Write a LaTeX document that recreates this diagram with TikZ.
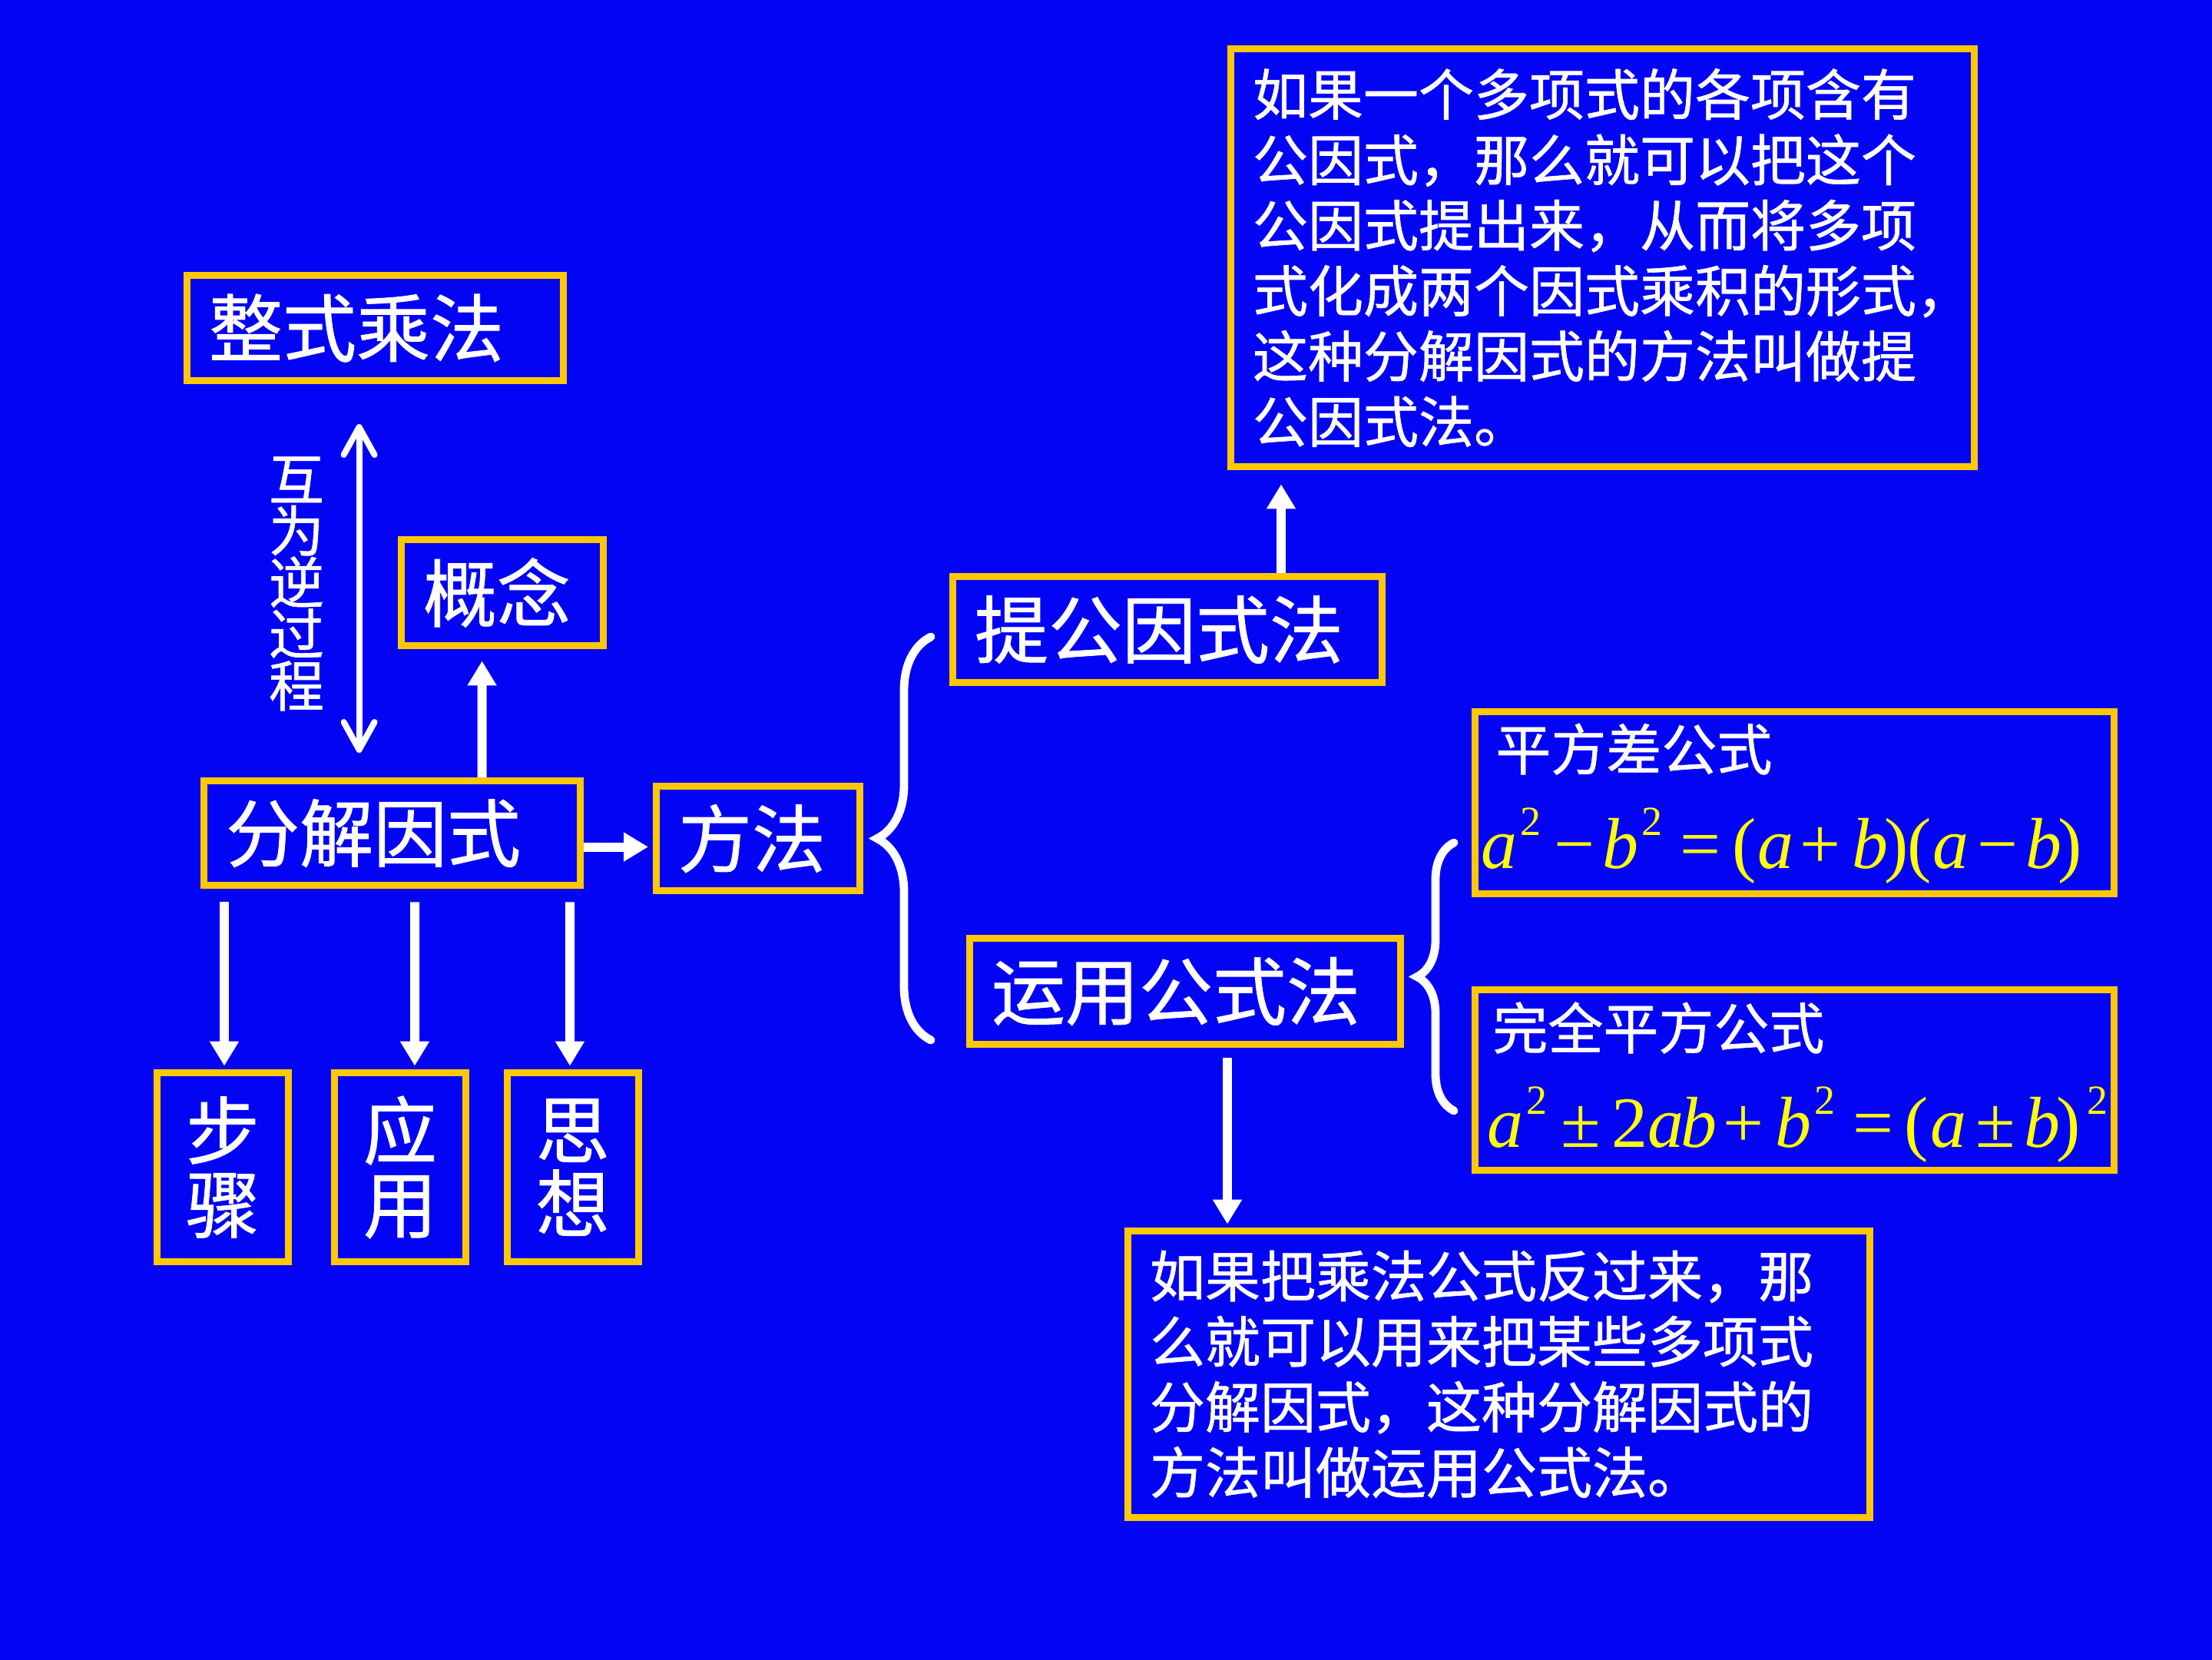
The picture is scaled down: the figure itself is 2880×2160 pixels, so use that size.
\documentclass[tikz,border=0pt]{standalone}
\usepackage{fontspec}
\setmainfont{Noto Sans CJK SC}[FakeBold=0.9]
\newfontfamily\fmlfont{Liberation Serif}
\usetikzlibrary{arrows.meta,decorations.pathreplacing,calc}
\definecolor{bgblue}{RGB}{4,4,245}
\definecolor{boxgold}{RGB}{255,200,0}
\definecolor{fmlyellow}{RGB}{255,255,0}
\newcommand\fsL{\fontsize{24bp}{24bp}\selectfont}
\newcommand\fsS{\fontsize{18bp}{21.3bp}\selectfont}
\newcommand\fsV{\fontsize{18bp}{16.8bp}\selectfont}
\newcommand\fsF{\fmlfont\fontsize{23.5bp}{23.5bp}\selectfont}
\newcommand\sqr{\raisebox{10.9bp}{\fontsize{13.5bp}{13.5bp}\selectfont 2}}
\newcommand\iv[1]{\textit{#1}}
\begin{document}
\begin{tikzpicture}[x=0.25bp,y=-0.25bp,
  box/.style={draw=boxgold,line width=2.2bp,text=white,inner ysep=0pt,inner xsep=7.15bp,align=left},
  tallbox/.style={draw=boxgold,line width=2.2bp,text=white,inner sep=0pt,align=center,
    minimum width=42.8bp,minimum height=61.55bp,font=\fsL},
  fat/.style={draw=white,line width=3bp,-{Triangle[width=9bp,length=8bp]}},
  thinarrow/.style={draw=white,line width=2bp,
    {Straight Barb[width=10bp,length=9bp,round]}-{Straight Barb[width=10bp,length=9bp,round]}},
  curly/.style={draw=white,line width=2.7bp,line cap=round,decorate,decoration={brace,amplitude=#1}},
  plain/.style={inner sep=0pt,anchor=base west}
]
\useasboundingbox (0,0) rectangle (2880,2160);
\fill[bgblue] (-40,-40) rectangle (2920,2200);

% left part
\node[box,font=\fsL,minimum width=122.5bp,minimum height=34.3bp,text width=108.2bp] (zscf) at (488.5,427) {整式乘法};
\node[box,font=\fsL,minimum width=65.8bp,minimum height=34.55bp,text width=51.5bp] (gn) at (654,771.5) {概念};
\node[box,font=\fsL,minimum width=122.5bp,minimum height=34.05bp,text width=108.2bp] (fj) at (510.5,1084.5) {分解因式};
\node[box,font=\fsL,minimum width=66.3bp,minimum height=34.05bp,text width=52bp] (ff) at (987,1091.5) {方法};
\node[tallbox] (bz) at (290,1519.5) {步\\骤};
\node[tallbox] (yyg) at (521,1519.5) {应\\用};
\node[tallbox] (sx) at (745.7,1519.5) {思\\想};
\node[text=white,font=\fsV,align=center,inner sep=0pt] (hw) at (386,760) {互\\为\\逆\\过\\程};

% right part
\node[box,font=\fsL,minimum width=139.8bp,minimum height=34.55bp,text width=125.5bp] (tg) at (1520,819.5) {提公因式法};
\node[box,font=\fsL,minimum width=140.3bp,minimum height=34.55bp,text width=126bp] (yy) at (1543,1290.5) {运用公式法};
\node[box,font=\fsS,minimum width=242.05bp,minimum height=136.05bp,text width=227.75bp] (tb) at (2086.5,335.5)
  {如果一个多项式的各项含有\\公因式，那么就可以把这个\\公因式提出来，从而将多项\\式化成两个因式乘积的形式，\\这种分解因式的方法叫做提\\公因式法。};
\node[box,font=\fsS,minimum width=241.55bp,minimum height=93.3bp,text width=227.25bp] (bb) at (1951.5,1789)
  {如果把乘法公式反过来，那\\么就可以用来把某些多项式\\分解因式，这种分解因式的\\方法叫做运用公式法。};
\node[box,minimum width=208.05bp,minimum height=59.3bp] (pfc) at (2336.5,1045) {};
\node[box,minimum width=208.05bp,minimum height=58.8bp] (wq) at (2336.5,1406) {};
\node[plain,text=white,font=\fsS] (pfct) at ($(pfc.north west)+(30.6,80.6)$) {平方差公式};
\node[plain,text=fmlyellow,font=\fsF] (pfcf) at ($(pfc.north west)+(11.6,208.6)$)
  {\iv{a}\kern1bp\sqr\kern4.25bp−\kern2.5bp\iv{b}\kern1bp\sqr\kern5.75bp=\kern3.75bp(\kern0.5bp\iv{a}\kern2bp+\kern3.75bp\iv{b}\kern-1.25bp)\kern-0.5bp(\kern0.5bp\iv{a}\kern2.75bp−\kern2.5bp\iv{b}\kern-1.25bp)};
\node[plain,text=white,font=\fsS] (wqt) at ($(wq.north west)+(26.6,81.6)$) {完全平方公式};
\node[plain,text=fmlyellow,font=\fsF] (wqf) at ($(wq.north west)+(19.6,209.6)$)
  {\iv{a}\kern1bp\sqr\kern4.5bp±\kern3.75bp2\kern-0.25bp\iv{a}\kern-1bp\iv{b}\kern2bp+\kern3.75bp\iv{b}\kern1bp\sqr\kern5.75bp=\kern3.75bp(\kern0.5bp\iv{a}\kern3bp±\kern3bp\iv{b}\kern-1.25bp)\kern2bp\sqr};

% connectors
\draw[thinarrow] ($(zscf.south west)+(228.5,52)$) -- ($(fj.north west)+(206.5,-32)$);
\draw[fat] ($(fj.north west)+(366.5,0)$) -- ($(gn.south west)+(109.6,15.4)$);
\draw[fat] ($(fj.east)+(0,18)$) -- ($(ff.west)+(-6,11)$);
\draw[fat] ($(fj.south)+(-218.5,17.4)$) -- ($(bz.north)+(2,-4.4)$);
\draw[fat] ($(fj.south)+(29.5,17.4)$) -- ($(yyg.north)+(19,-4.4)$);
\draw[fat] ($(fj.south)+(231.5,17.4)$) -- ($(sx.north)+(-3.7,-4.4)$);
\draw[fat] ($(tg.north)+(148,0)$) -- ($(tb.south)+(-418.5,18.4)$);
\draw[fat] ($(yy.south)+(55,13)$) -- ($(bb.north)+(-353.5,-4.4)$);

% braces
\coordinate (b1lo) at (1212,1354);
\coordinate (b1hi) at (1212,829);
\draw[curly=17.5bp] (b1lo) -- (b1hi);
\coordinate (b2lo) at (1893,1446);
\coordinate (b2hi) at (1893,1097);
\draw[curly=12bp] (b2lo) -- (b2hi);
\end{tikzpicture}
\end{document}
